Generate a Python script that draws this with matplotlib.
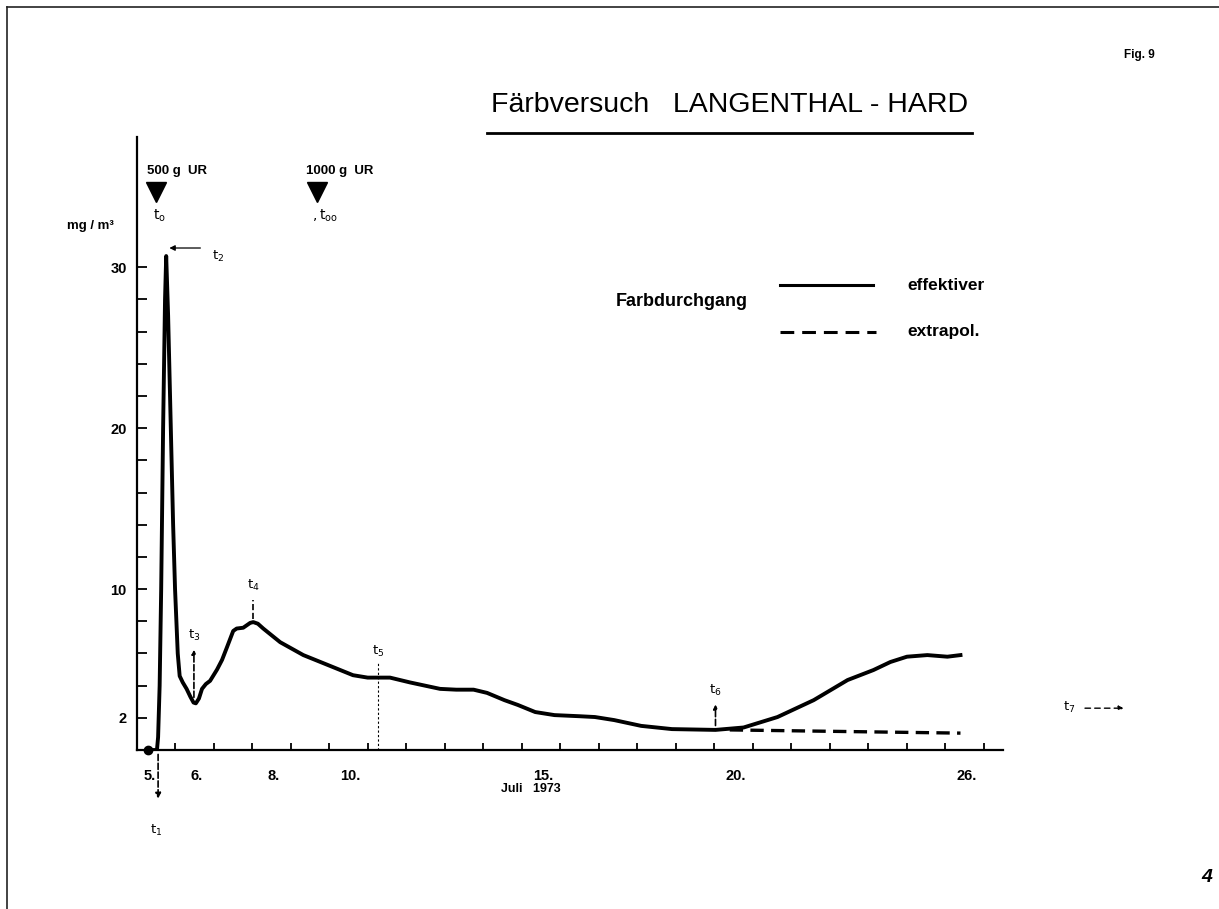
import matplotlib.pyplot as plt
import matplotlib.lines as mlines

plt.rcParams['font.family'] = ['Liberation Sans', 'DejaVu Sans']

# Farbdurchgang, Juli 1973 (Tag im Juli, mg/m3)
tage = [5.30, 5.53, 5.56, 5.60, 5.64, 5.69, 5.74, 5.77, 5.82, 5.88, 5.95, 6.00,
        6.07, 6.12, 6.20, 6.30, 6.40, 6.48, 6.54, 6.62, 6.70, 6.80, 6.91, 7.09,
        7.22, 7.35, 7.51, 7.60, 7.77, 7.95, 8.03, 8.15, 8.29, 8.73, 9.33, 9.95,
        10.62, 11.00, 11.27, 11.58, 12.10, 12.88, 13.30, 13.75, 14.10, 14.55,
        14.90, 15.35, 15.85, 16.50, 16.90, 17.40, 18.10, 18.90, 20.03, 20.76,
        21.64, 22.58, 23.46, 24.13, 24.57, 25.00, 25.53, 26.05, 26.39]
konz = [0.0, 0.0, 0.8, 4.0, 10.0, 20.0, 28.0, 30.7, 27.0, 21.0, 14.0, 10.0,
        6.0, 4.6, 4.2, 3.8, 3.3, 2.95, 2.9, 3.2, 3.8, 4.1, 4.3, 5.0,
        5.6, 6.4, 7.4, 7.55, 7.6, 7.9, 7.95, 7.85, 7.55, 6.7, 5.9, 5.3,
        4.65, 4.5, 4.5, 4.5, 4.2, 3.8, 3.75, 3.75, 3.55, 3.1,
        2.8, 2.36, 2.17, 2.1, 2.05, 1.86, 1.5, 1.3, 1.25, 1.4,
        2.05, 3.1, 4.35, 4.97, 5.47, 5.8, 5.9, 5.8, 5.9]

# extrapolierter Verlauf ab t6
extra_tage = [20.40, 26.39]
extra_konz = [1.25, 1.05]

tick_tage = list(range(6, 28))
label_tage = [5, 6, 8, 10, 15, 20, 26]
y_ticks = list(range(2, 32, 2))
y_labels = {2: '2', 10: '10', 20: '20', 30: '30'}

fig = plt.figure(figsize=(12.19, 9.09), dpi=100)
ax = fig.add_axes([0.112, 0.1749, 0.711, 0.6744])
ax.set_xlim(5.0, 27.5)
ax.set_ylim(0, 38.1)

for s in ['top', 'right']:
    ax.spines[s].set_visible(False)
for s in ['left', 'bottom']:
    ax.spines[s].set_linewidth(1.6)

ax.set_xticks(tick_tage)
ax.set_xticklabels([])
ax.tick_params(axis='x', which='major', direction='in', length=5, width=1.3)
# Tagesbeschriftung jeweils in Tagesmitte
lab_pos = [d + 0.55 if d > 5 else d + 0.35 for d in label_tage]
ax.set_xticks(lab_pos, [f'{d}.' for d in label_tage], minor=True)
ax.tick_params(axis='x', which='minor', length=0, pad=14, labelsize=10.5)
for lab in ax.get_xticklabels(minor=True):
    lab.set_fontweight('bold')

ax.set_yticks(y_ticks, [y_labels.get(v, '') for v in y_ticks])
ax.tick_params(axis='y', direction='in', length=7, width=1.3, pad=7, labelsize=10.5)
for lab in ax.get_yticklabels():
    lab.set_fontweight('bold')

# Kurven
ax.plot(tage, konz, color='black', lw=2.8, solid_joinstyle='round')
ax.plot(extra_tage, extra_konz, color='black', lw=2.4, linestyle=(0, (4, 2.2)))
ax.plot([tage[0]], [konz[0]], 'o', color='black', markersize=6, clip_on=False)

# Eingaben Uranin
ax.text(5.27, 36.0, '500 g  UR', fontsize=9.5, fontweight='bold', va='center')
ax.plot([5.51], [34.7], 'v', color='black', markersize=14, clip_on=False)
ax.text(5.42, 33.2, r'$\mathrm{t_o}$', fontsize=10, va='center')
ax.text(9.40, 36.0, '1000 g  UR', fontsize=9.5, fontweight='bold', va='center')
ax.plot([9.69], [34.7], 'v', color='black', markersize=14, clip_on=False)
ax.text(9.55, 33.2, r'$\mathrm{,t_{oo}}$', fontsize=10, va='center')

# Zeitmarken
ax.annotate('', xy=(5.78, 31.2), xytext=(6.73, 31.2),
            arrowprops=dict(arrowstyle='-|>', lw=0.9, color='black', mutation_scale=8))
ax.text(6.95, 30.7, r'$\mathrm{t_2}$', fontsize=9.5, va='center')

ax.annotate('', xy=(5.56, -3.2), xytext=(5.56, -0.1), annotation_clip=False,
            arrowprops=dict(arrowstyle='-|>', lw=1.2, ls='--', color='black', mutation_scale=8))
ax.text(5.50, -5.0, r'$\mathrm{t_1}$', fontsize=9.5, va='center', ha='center')

ax.annotate('', xy=(6.49, 6.4), xytext=(6.49, 3.1),
            arrowprops=dict(arrowstyle='-|>', lw=1.2, ls='--', color='black', mutation_scale=6))
ax.text(6.49, 7.1, r'$\mathrm{t_3}$', fontsize=9.5, va='center', ha='center')

ax.plot([8.03, 8.03], [8.15, 9.3], color='black', lw=1.2, ls='--')
ax.text(8.03, 10.2, r'$\mathrm{t_4}$', fontsize=9.5, va='center', ha='center')

ax.plot([11.27, 11.27], [0, 5.4], color='black', lw=0.8, ls=(0, (2, 2)))
ax.text(11.27, 6.1, r'$\mathrm{t_5}$', fontsize=9.5, va='center', ha='center')

ax.annotate('', xy=(20.03, 3.0), xytext=(20.03, 1.35),
            arrowprops=dict(arrowstyle='-|>', lw=1.2, ls='--', color='black', mutation_scale=6))
ax.text(20.03, 3.7, r'$\mathrm{t_6}$', fontsize=9.5, va='center', ha='center')

ax.text(29.05, 2.65, r'$\mathrm{t_7}$', fontsize=9.5, va='center', clip_on=False)
ax.annotate('', xy=(30.7, 2.6), xytext=(29.55, 2.6), annotation_clip=False,
            arrowprops=dict(arrowstyle='-|>', lw=1.0, ls=(0, (4, 3)), color='black', mutation_scale=7))

ax.text(15.25, -2.45, 'Juli   1973', fontsize=9, fontweight='bold', ha='center', va='center')

# Legende
ax.text(17.43, 27.9, 'Farbdurchgang', fontsize=13, fontweight='bold', va='center')
ax.plot([21.71, 24.13], [28.9, 28.9], color='black', lw=2.2)
ax.plot([21.71, 24.20], [26.0, 26.0], color='black', lw=2.2, linestyle=(0, (4.5, 2.6)))
ax.text(25.0, 28.9, 'effektiver', fontsize=12.5, fontweight='bold', va='center')
ax.text(25.0, 26.0, 'extrapol.', fontsize=12.5, fontweight='bold', va='center')

# Titel mit Unterstrich
fig.text(0.5985, 0.8845, 'Färbversuch   LANGENTHAL - HARD', fontsize=20.5,
         ha='center', va='center')
fig.add_artist(mlines.Line2D([0.3995, 0.797], [0.8537, 0.8537], color='black', lw=2.0))

fig.text(0.935, 0.9395, 'Fig. 9', fontsize=8.5, fontweight='bold', ha='center', va='center')
fig.text(0.074, 0.751, 'mg / m³', fontsize=9.5, fontweight='bold', ha='center', va='center')
fig.text(0.99, 0.035, '4', fontsize=14, fontweight='bold', style='italic',
         ha='center', va='center')

# Rahmen
fig.add_artist(mlines.Line2D([0.006, 1.0], [0.992, 0.992], color='#222222', lw=1.2))
fig.add_artist(mlines.Line2D([0.006, 0.006], [0.0, 0.992], color='#222222', lw=1.2))

fig.savefig('out.png', dpi=100)
